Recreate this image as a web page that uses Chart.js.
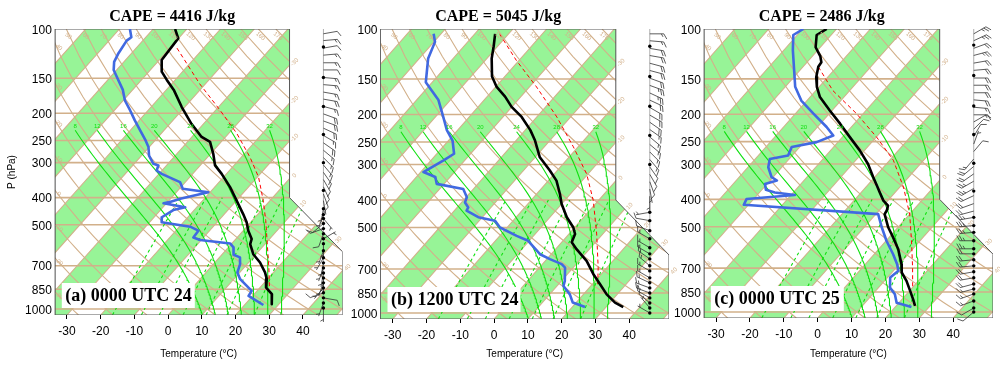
<!DOCTYPE html>
<html><head><meta charset="utf-8">
<script src="https://cdn.jsdelivr.net/npm/chart.js"></script>
<style>
html,body{margin:0;padding:0;background:#fff;}
#wrap{position:relative;width:1000px;height:368px;overflow:hidden;background:#fff;}
canvas{position:absolute;left:0;top:0;}
</style></head><body><div id="wrap">
<canvas id="c0" width="1000" height="368"></canvas>
<canvas id="c1" width="1000" height="368"></canvas>
<canvas id="c2" width="1000" height="368"></canvas>
</div>
<script>
// ---------------- DATA ----------------
const pressureTicks = [100,150,200,250,300,400,500,700,850,1000];
const temperatureTicks = [-30,-20,-10,0,10,20,30,40];
const capeTitles = ['CAPE = 4416 J/kg','CAPE = 5045 J/kg','CAPE = 2486 J/kg'];
const panelLabels = ['(a) 0000 UTC 24','(b) 1200 UTC 24','(c) 0000 UTC 25'];

// background reference lines
const isothermValues = [-120,-110,-100,-90,-80,-70,-60,-50,-40,-30,-20,-10,0,10,20,30,40,50];
const greenBandStarts = [-120,-100,-80,-60,-40,-20,0,20,40];
const dryAdiabatThetas = [-40,-30,-20,-10,0,10,20,30,40,50,60,70,80,90,100,110,120,130,140,150,160,170];
const moistAdiabatT1000 = [8,12,16,20,24,28,32];
const mixingRatios = [1,2,3,5,8,12,20];
const isobarLevels = [150,200,250,300,400,500,700,850,1000];
const isothermLabelValues = [-30,-20,-10,0,10,20,30,40];

// (a) 0000 UTC 24
const tempP_a = [100,108,129,142,152,165,190,218,243,253,279,307,329,367,410,458,490,525,562,586,637,682,740,782,838,885,961];
const tempT_a = [-73.5,-70.1,-69.3,-66.2,-62.5,-57.8,-50.9,-43.6,-37.1,-33.3,-29.2,-25.6,-21.4,-15.4,-9.9,-4.4,-1.2,1.5,4.7,5.6,9.2,13.4,17.5,19.8,21.8,25.3,27.9];
const dewP_a = [100,107,110,122,131,140,148,165,180,195,212,230,250,264,283,303,307,320,329,352,372,383,404,416,419,433,443,470,490,508,525,555,567,583,602,640,654,691,740,782,861,897,967];
const dewT_a = [-86.9,-84.3,-84.8,-83.9,-82.9,-80.9,-78.2,-72.9,-69.5,-65.4,-61.3,-57.1,-52.8,-50.2,-47.8,-44.3,-42.4,-41.6,-39.2,-31.6,-29.0,-20.5,-27.1,-29.7,-30.9,-23.4,-26.2,-27.7,-26.4,-16.8,-13.3,-13.0,-10.3,-0.5,1.5,3.5,6.1,7.9,9.3,11.9,18.4,18.8,25.6];
const parcelP_a = [117,157,195,236,287,338,410,483,602,710,838];
const parcelT_a = [-67.9,-51.7,-38.7,-27.6,-17.4,-9.6,-2.0,4.0,11.6,17.3,22.8];
const windP_a = [104,110,117,124,132,140,149,158,168,178,189,201,213,226,240,255,271,288,306,325,345,366,388,410,438,460,475,495,516,538,561,584,619,656,684,713,743,774,806,840,875,912,951,991];
const windDir_a = [80,85,80,85,90,90,95,95,100,100,105,110,110,115,120,125,130,135,140,145,150,155,160,170,190,200,140,230,250,200,60,180,200,210,190,200,190,180,200,220,250,100,200,180];
const windSpd_a = [10,15,10,15,15,10,15,15,15,20,15,20,20,20,15,20,15,15,15,15,10,10,10,5,5,5,5,10,10,10,5,5,5,5,5,5,5,5,5,5,10,10,5,5];
const windDot_a = [116,149,189,238,300,377,438,460,475,495,516,538,561,584,619,656,684,713,743,774,806,840,875,912,951,991];

// (b) 1200 UTC 24
const tempP_b = [104,115,127,147,160,173,188,204,227,247,283,315,342,381,413,460,500,527,564,596,655,730,792,860,919,953];
const tempT_b = [-74.0,-71.2,-68.6,-63.8,-59.7,-54.7,-50.1,-44.5,-38.5,-34.4,-28.6,-22.2,-17.6,-13.1,-10.0,-5.0,-0.4,1.8,3.0,6.2,12.2,17.7,22.3,26.9,31.5,35.1];
const dewP_b = [104,111,127,154,158,178,204,227,247,275,290,319,332,351,366,391,408,425,436,460,473,500,535,557,621,646,673,692,771,803,860,919,953];
const dewT_b = [-92.2,-89.7,-87.4,-81.9,-80.4,-73.5,-67.7,-63.2,-58.8,-54.9,-56.3,-59.2,-54.4,-52.2,-43.0,-39.8,-39.0,-36.7,-36.4,-31.2,-25.4,-22.1,-15.0,-10.3,-3.3,0.9,5.7,7.6,11.0,11.9,16.0,19.0,23.8];
const parcelP_b = [104,129,160,204,260,324,402,527,692,792];
const parcelT_b = [-72.7,-60.8,-47.9,-34.1,-21.4,-10.4,-1.5,8.2,17.4,21.6];
const windP_b = [104,110,117,124,132,140,149,158,168,178,189,201,213,226,240,255,271,288,306,325,345,366,388,442,473,513,548,589,619,645,682,711,752,783,816,850,885,922,960,1000];
const windDir_b = [90,95,100,100,105,105,110,110,115,115,120,120,125,125,130,130,135,140,145,150,160,170,180,260,280,290,300,300,300,305,310,300,300,295,290,290,300,310,320,300];
const windSpd_b = [15,15,20,20,20,20,20,25,25,20,20,20,20,15,15,15,15,15,10,10,10,5,5,5,10,10,15,15,15,15,15,15,15,15,15,15,10,10,5,5];
const windDot_b = [115,147,187,237,300,442,473,513,548,589,619,645,682,711,752,783,816,850,885,922,960,1000];

// (c) 0000 UTC 25
const tempP_c = [100,105,116,125,131,136,148,160,174,194,216,241,269,300,334,357,378,404,421,438,451,502,545,600,678,725,776,842,902,952];
const tempT_c = [-72.9,-74.3,-71.4,-67.6,-65.8,-65.5,-63.4,-60.7,-57.1,-50.7,-44.2,-37.8,-31.3,-25.4,-20.4,-17.2,-14.5,-11.3,-8.6,-7.7,-7.4,-2.9,1.2,5.8,10.7,12.9,16.5,20.2,23.3,25.6];
const dewP_c = [100,105,119,136,160,179,199,222,238,251,261,280,288,308,334,343,353,370,378,386,399,418,451,502,560,625,678,715,755,820,866,927,960];
const dewT_c = [-79.8,-81.2,-77.3,-72.7,-67.1,-61.7,-54.7,-47.3,-43.1,-46.3,-52.4,-51.2,-55.7,-54.0,-50.4,-48.0,-50.6,-48.8,-45.5,-38.9,-52.1,-51.4,-9.3,-4.8,0.1,5.6,9.4,11.5,10.8,13.4,16.6,19.3,24.8];
const parcelP_c = [136,165,199,241,291,362,451,560,696,820];
const parcelT_c = [-65.5,-55.0,-42.0,-29.9,-18.9,-8.9,0.0,7.5,14.8,20.1];
const windP_c = [104,110,117,124,132,140,149,158,168,178,189,201,213,226,240,255,271,288,306,325,345,366,388,414,440,463,495,523,560,598,623,654,687,721,757,796,829,863,914,968,1000];
const windDir_c = [60,65,70,75,80,85,90,90,90,95,95,90,60,45,30,20,40,220,230,235,240,240,245,250,255,260,265,265,270,270,270,265,265,260,260,255,255,250,250,240,230];
const windSpd_c = [25,25,20,25,20,20,20,20,20,20,15,15,10,10,10,5,10,15,20,20,25,25,20,20,20,25,25,25,25,25,20,20,20,20,20,20,15,15,15,10,10];
const windDot_c = [114,146,187,236,298,374,463,495,523,560,598,623,654,687,721,757,796,829,863,914,968,1000];

// ---------------- SKEW-T GEOMETRY (NCL skewT) ----------------
const K = 0.90692/0.54;
function skewY(p){ return 132.182 - 44.061*Math.log10(p); }
function pFromY(y){ return Math.pow(10,(132.182 - y)/44.061); }
function skewX(T,p){ return T + K*skewY(p); }
const X_LEFT = -19/0.54, X_RIGHT = 27.1/0.54, X_UPPER = 18.6/0.54, WIND_X = 44.5;
const Y_BOT = skewY(1050), Y_TOP = skewY(100), Y_KNEE = 9.0, Y_CORNER = 17.53;
const frameXY = [[X_LEFT,Y_BOT],[X_RIGHT,Y_BOT],[X_RIGHT,Y_KNEE],[X_UPPER,Y_CORNER],[X_UPPER,Y_TOP],[X_LEFT,Y_TOP]];

const TAN = '#d2b08a', BAND = '#97f497', MOIST = '#10e010';

function clipPolygon(subject, clip){
  let out = subject;
  for (let i=0;i<clip.length;i++){
    const A = clip[i], B = clip[(i+1)%clip.length];
    const inp = out; out = [];
    if (!inp.length) break;
    const side = P => (B[0]-A[0])*(P[1]-A[1]) - (B[1]-A[1])*(P[0]-A[0]);
    for (let j=0;j<inp.length;j++){
      const P = inp[j], Q = inp[(j+1)%inp.length];
      const sp = side(P), sq = side(Q);
      if (sp >= 0){ out.push(P); if (sq < 0){ const t = sp/(sp-sq); out.push([P[0]+t*(Q[0]-P[0]), P[1]+t*(Q[1]-P[1])]); } }
      else if (sq >= 0){ const t = sp/(sp-sq); out.push([P[0]+t*(Q[0]-P[0]), P[1]+t*(Q[1]-P[1])]); }
    }
  }
  return out;
}
function satMix(TK,p){ const es = 6.112*Math.exp(17.67*(TK-273.15)/(TK-29.65)); return 0.622*es/(p-es); }
function dTdp(TK,p){ const rs=satMix(TK,p), Rd=287.04, cp=1005.7, L=2.501e6, eps=0.622;
  return (Rd*TK + L*rs)/(p*(cp + L*L*rs*eps/(Rd*TK*TK))); }
function rk(T,p,dp){ const k1=dTdp(T,p), k2=dTdp(T+0.5*dp*k1,p+0.5*dp), k3=dTdp(T+0.5*dp*k2,p+0.5*dp), k4=dTdp(T+dp*k3,p+dp);
  return T + dp*(k1+2*k2+2*k3+k4)/6; }
function moistAdiabat(T0){
  const below=[]; let T=T0+273.15;
  for (let q=1000;q<1050;q+=10){ T=rk(T,q,10); below.push({x:skewX(T-273.15,q+10), y:q+10}); }
  const pts = below.reverse();
  pts.push({x:skewX(T0,1000), y:1000});
  T=T0+273.15;
  for (let q=1000;q>230;q-=10){ T=rk(T,q,-10); pts.push({x:skewX(T-273.15,q-10), y:q-10}); }
  return pts;
}
function dryT(th,p){ return (th+273.15)*Math.pow(p/1000,0.2857)-273.15; }
function dryAdiabat(th){ const pts=[]; for (let p=1050;p>=100;p-=25) pts.push({x:skewX(dryT(th,p),p), y:p}); return pts; }
function tmr(w,p){ const c1=0.0498646455,c2=2.4082965,c3=7.07475,c4=38.9114,c5=0.0915,c6=1.2035;
  const x=Math.log10(w*p/(622+w)); return Math.pow(10,c1*x+c2)-c3+c4*Math.pow(Math.pow(10,c5*x)-c6,2)-273.15; }
function mixLine(w){ const pts=[]; for (let p=1050;p>=400;p-=50) pts.push({x:skewX(tmr(w,p),p), y:p}); return pts; }

function profile(P,T){ return P.map((p,i)=>({x:skewX(T[i],p), y:p})); }

function buildDatasets(pn){
  const ds=[];
  const ln=(pts,color,w,extra)=>Object.assign({data:pts,borderColor:color,borderWidth:w,pointRadius:0,fill:false,tension:0},extra||{});
  ds.push(ln(profile(pn.tP,pn.tT),'#000000',2.6,{borderJoinStyle:'round'}));
  ds.push(ln(profile(pn.dP,pn.dT),'#4169e1',2.6,{borderJoinStyle:'round'}));
  ds.push(ln(profile(pn.pP,pn.pT),'#ff0000',1,{borderDash:[4,3]}));
  const fr = frameXY.map(([x,y])=>({x, y:pFromY(y)})); fr.push(fr[0]);
  ds.push(ln(fr,'#555555',1));
  moistAdiabatT1000.forEach(t=>ds.push(ln(moistAdiabat(t),MOIST,1.1,{clipToFrame:true})));
  mixingRatios.forEach(w=>ds.push(ln(mixLine(w),MOIST,1.1,{borderDash:[3,3],clipToFrame:true})));
  dryAdiabatThetas.forEach(th=>ds.push(ln(dryAdiabat(th),TAN,1.1,{clipToFrame:true})));
  isothermValues.forEach(t=>ds.push(ln([{x:skewX(t,1050),y:1050},{x:skewX(t,100),y:100}],TAN,1.1,{clipToFrame:true})));
  isobarLevels.forEach(p=>ds.push(ln([{x:X_LEFT,y:p},{x:X_RIGHT,y:p}],TAN,1.6,{clipToFrame:true})));
  greenBandStarts.forEach(t=>{
    const quad=[[t+K*Y_BOT,Y_BOT],[t+10+K*Y_BOT,Y_BOT],[t+10+K*Y_TOP,Y_TOP],[t+K*Y_TOP,Y_TOP]];
    const poly=clipPolygon(frameXY,quad);
    if (poly.length<3) return;
    const pts=poly.map(([x,y])=>({x,y:pFromY(y)})); pts.push(pts[0]);
    ds.push({data:pts,fill:'shape',backgroundColor:BAND,borderColor:'rgba(0,0,0,0)',borderWidth:0,pointRadius:0,tension:0});
  });
  return ds;
}

function drawBarb(ctx,x,y,dir,spd){
  const r=dir*Math.PI/180, ux=Math.sin(r), uy=-Math.cos(r), Ls=14;
  const ex=x+ux*Ls, ey=y+uy*Ls, a=60*Math.PI/180;
  const fx=ux*Math.cos(a)-uy*Math.sin(a), fy=ux*Math.sin(a)+uy*Math.cos(a);
  ctx.beginPath(); ctx.moveTo(x,y); ctx.lineTo(ex,ey);
  const full=Math.floor(spd/10), half=(spd%10)>=5;
  let pos=0;
  for (let i=0;i<full;i++){ const bx=ex-ux*pos*2.5, by=ey-uy*pos*2.5; ctx.moveTo(bx,by); ctx.lineTo(bx+fx*6,by+fy*6); pos++; }
  if (half){ if (full===0) pos=1; const bx=ex-ux*pos*2.5, by=ey-uy*pos*2.5; ctx.moveTo(bx,by); ctx.lineTo(bx+fx*3.5,by+fy*3.5); }
  ctx.stroke();
}

function makeDecor(pn){
  return {
    id:'skewDecor',
    beforeDatasetDraw(chart,args){
      const d=chart.data.datasets[args.index]; if(!d.clipToFrame) return;
      const ctx=chart.ctx, xs=chart.scales.x, ys=chart.scales.y;
      ctx.save(); ctx.beginPath();
      frameXY.forEach(([X,y],i)=>{ const px=xs.getPixelForValue(X), py=ys.getPixelForValue(pFromY(y)); if(i) ctx.lineTo(px,py); else ctx.moveTo(px,py); });
      ctx.closePath(); ctx.clip();
    },
    afterDatasetDraw(chart,args){ if(chart.data.datasets[args.index].clipToFrame) chart.ctx.restore(); },
    afterDatasetsDraw(chart){
      const ctx=chart.ctx, xs=chart.scales.x, ys=chart.scales.y, ca=chart.chartArea;
      const PX=X=>xs.getPixelForValue(X), PY=p=>ys.getPixelForValue(p);
      ctx.save();
      ctx.font="6px 'Liberation Sans', Arial, sans-serif"; ctx.textAlign='center'; ctx.textBaseline='middle';
      ctx.fillStyle=TAN;
      dryAdiabatThetas.forEach(th=>{
        const Xt=skewX(dryT(th,100),100);
        if (Xt>X_LEFT+2 && Xt<X_UPPER-2){ ctx.save(); ctx.translate(PX(Xt)+2,PY(106)); ctx.rotate(0.7); ctx.fillText(String(th),0,0); ctx.restore(); }
        else if (Xt<=X_LEFT && skewX(dryT(th,1050),1050)>X_LEFT){
          let lo=100, hi=1050; for(let k=0;k<40;k++){ const m=Math.sqrt(lo*hi); if (skewX(dryT(th,m),m)<X_LEFT) lo=m; else hi=m; }
          ctx.save(); ctx.translate(PX(X_LEFT)+4,PY(hi)+4); ctx.rotate(0.7); ctx.fillText(String(th),0,0); ctx.restore();
        }
      });
      const s=(X_RIGHT-X_UPPER)/(Y_CORNER-Y_KNEE);
      isothermLabelValues.forEach(t=>{
        let X=null,y=null;
        const yu=(X_UPPER-t)/K;
        if (yu>=Y_CORNER && yu<=Y_TOP){ X=X_UPPER; y=yu; }
        else { const yd=(X_UPPER+s*Y_CORNER-t)/(K+s); if (yd>=Y_KNEE && yd<Y_CORNER){ y=yd; X=t+K*yd; }
          else { const yr=(X_RIGHT-t)/K; if (yr>=Y_BOT && yr<Y_KNEE){ y=yr; X=X_RIGHT; } } }
        if (X===null) return;
        ctx.save(); ctx.translate(PX(X)+5,PY(pFromY(y))-3); ctx.rotate(-0.78); ctx.fillText(String(t),0,0); ctx.restore();
      });
      ctx.fillStyle=MOIST;
      moistAdiabatT1000.forEach(t=>{ const pts=moistAdiabat(t); const top=pts[pts.length-1]; ctx.fillText(String(t),PX(top.x),PY(top.y)-4); });
      // wind column
      const xw=PX(WIND_X);
      ctx.strokeStyle='#999'; ctx.lineWidth=0.8;
      ctx.beginPath(); ctx.moveTo(xw,PY(100)); ctx.lineTo(xw,PY(Math.max(...pn.wP))); ctx.stroke();
      ctx.strokeStyle='#333'; ctx.lineWidth=0.8;
      pn.wP.forEach((p,i)=>drawBarb(ctx,xw,PY(p),pn.wD[i],pn.wS[i]));
      ctx.fillStyle='#000';
      pn.dots.forEach(p=>{ ctx.beginPath(); ctx.arc(xw,PY(p),1.7,0,Math.PI*2); ctx.fill(); });
      // title
      ctx.fillStyle='#000'; ctx.textAlign='center'; ctx.textBaseline='alphabetic';
      ctx.font="bold 16px 'Liberation Serif', 'Times New Roman', serif";
      ctx.fillText(pn.title,(PX(X_LEFT)+PX(X_UPPER))/2,20.5);
      // panel label
      ctx.fillStyle='#fff'; ctx.fillRect(ca.left+7,ca.bottom-32,133,25);
      ctx.fillStyle='#000'; ctx.textAlign='left';
      ctx.font="bold 18px 'Liberation Serif', 'Times New Roman', serif";
      ctx.fillText(pn.label,ca.left+10.5,ca.bottom-14.5);
      ctx.restore();
    }
  };
}

Chart.defaults.font.family="'Liberation Sans', Arial, Helvetica, sans-serif";
const panels=[
  {tP:tempP_a,tT:tempT_a,dP:dewP_a,dT:dewT_a,pP:parcelP_a,pT:parcelT_a,wP:windP_a,wD:windDir_a,wS:windSpd_a,dots:windDot_a,title:capeTitles[0],label:panelLabels[0]},
  {tP:tempP_b,tT:tempT_b,dP:dewP_b,dT:dewT_b,pP:parcelP_b,pT:parcelT_b,wP:windP_b,wD:windDir_b,wS:windSpd_b,dots:windDot_b,title:capeTitles[1],label:panelLabels[1]},
  {tP:tempP_c,tT:tempT_c,dP:dewP_c,dT:dewT_c,pP:parcelP_c,pT:parcelT_c,wP:windP_c,wD:windDir_c,wS:windSpd_c,dots:windDot_c,title:capeTitles[2],label:panelLabels[2]}
];
const frames=[{L:54.8,R:342.6,B:315,yTitle:true},{L:380.5,R:669,B:319,yTitle:false},{L:703.8,R:993,B:318,yTitle:false}];

panels.forEach((pn,idx)=>{
  const lay=frames[idx];
  const yW = lay.yTitle ? lay.L : 40;
  new Chart(document.getElementById('c'+idx),{
    type:'line',
    data:{datasets:buildDatasets(pn)},
    options:{
      responsive:false, animation:false, devicePixelRatio:1, events:[],
      layout:{padding:{left:lay.L-yW,right:1000-lay.R,top:29,bottom:0}},
      elements:{point:{radius:0},line:{tension:0}},
      plugins:{legend:{display:false},tooltip:{enabled:false},title:{display:false}},
      scales:{
        x:{type:'linear',min:X_LEFT,max:X_RIGHT,position:'bottom',
          afterBuildTicks:s=>{ s.ticks=temperatureTicks.map(t=>({value:skewX(t,1050)})); },
          afterFit:s=>{ s.height=368-lay.B; },
          ticks:{callback:(v,i)=>String(temperatureTicks[i]),color:'#000',font:{size:12},padding:5,maxRotation:0,autoSkip:false},
          grid:{drawOnChartArea:false,drawTicks:true,tickLength:4,color:'#000',lineWidth:1},
          border:{display:false},
          title:{display:true,text:'Temperature (°C)',color:'#000',font:{size:10},padding:{top:0,bottom:8}}},
        y:{type:'logarithmic',min:100,max:1050,reverse:true,position:'left',
          afterBuildTicks:s=>{ s.ticks=pressureTicks.map(v=>({value:v})); },
          afterFit:s=>{ s.width=yW; },
          ticks:{callback:v=>String(v),color:'#000',font:{size:12},padding:3,autoSkip:false,labelOffset:1.5},
          grid:{display:false,drawTicks:false},
          border:{display:false},
          title:{display:lay.yTitle,text:'P (hPa)',color:'#000',font:{size:10},padding:{top:6,bottom:0}}}
      }
    },
    plugins:[makeDecor(pn)]
  });
});
</script></body></html>
